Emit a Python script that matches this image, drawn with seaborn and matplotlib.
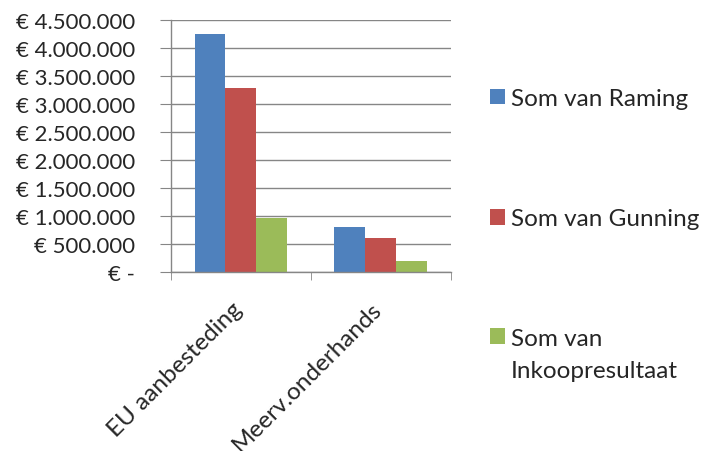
import numpy as np
import pandas as pd
import matplotlib
matplotlib.use('Agg')
import matplotlib.pyplot as plt
import matplotlib.transforms as mtransforms
import seaborn as sns
from matplotlib.ticker import FuncFormatter, FixedLocator

categories = ['EU aanbesteding', 'Meerv.onderhands']
series = ['Som van Raming', 'Som van Gunning', 'Som van\nInkoopresultaat']
raming = [4255000, 805000]
gunning = [3280000, 600000]
inkoopresultaat = [965000, 195000]
colors = ['#4F81BD', '#C0504D', '#9BBB59']

df = pd.DataFrame({
    'categorie': categories * 3,
    'serie': [series[0]] * 2 + [series[1]] * 2 + [series[2]] * 2,
    'waarde': raming + gunning + inkoopresultaat,
})

sns.set_style('white')
plt.rcParams['font.family'] = ['Lato', 'DejaVu Sans']

fig = plt.figure(figsize=(7.01, 4.52), dpi=100)
ax = fig.add_axes([0.244, 0.3967, 0.399, 0.5573])

sns.barplot(data=df, x='categorie', y='waarde', hue='serie', palette=colors,
            width=0.664, saturation=1, ax=ax, errorbar=None, edgecolor='none')

ax.set_ylim(0, 4500000)
ax.set_xlim(-0.5, 1.5)
ax.set_yticks(np.arange(0, 4500001, 500000))


def euro(v, pos):
    if v == 0:
        return '€ -'
    return '€ ' + f'{int(v):,}'.replace(',', '.')


ax.yaxis.set_major_formatter(FuncFormatter(euro))
ax.grid(True, axis='y', color='#868686', linewidth=1)
ax.set_axisbelow(True)
for s in ['top', 'right']:
    ax.spines[s].set_visible(False)
for s in ['left', 'bottom']:
    ax.spines[s].set_color('#868686')
    ax.spines[s].set_linewidth(1)

ax.tick_params(axis='y', which='major', length=8, color='#868686', direction='out',
               labelsize=16, pad=18, left=True)
ax.set_xticks([0, 1])
ax.set_xticklabels(categories, rotation=45, ha='right', rotation_mode='anchor', fontsize=17.5)
ax.xaxis.set_minor_locator(FixedLocator([-0.5, 0.5, 1.5]))
ax.tick_params(axis='x', which='major', length=0, pad=16)
ax.tick_params(axis='x', which='minor', length=6, color='#868686', direction='out', bottom=True)
ax.set_xlabel('')
ax.set_ylabel('')
# nudge the rotated labels a little left/down, like the original
shift = mtransforms.ScaledTranslation(-0.10, -0.04, fig.dpi_scale_trans)
for lab in ax.xaxis.get_majorticklabels():
    lab.set_transform(lab.get_transform() + shift)

handles, labels = ax.get_legend_handles_labels()
leg = ax.legend(handles, labels, loc='upper left', bbox_to_anchor=(1.139, 0.729), frameon=False,
                fontsize=17.5, labelspacing=4.08, handlelength=0.62, handleheight=0.62,
                handletextpad=0.25, borderaxespad=0, borderpad=0)
for t in leg.get_texts():
    t.set_linespacing(1.6)
# square next to the first line of the two-line label
for col in leg._legend_handle_box.get_children():
    rows = col.get_children()
    rows[-1].align = 'top'

fig.savefig('out.png', dpi=100)
